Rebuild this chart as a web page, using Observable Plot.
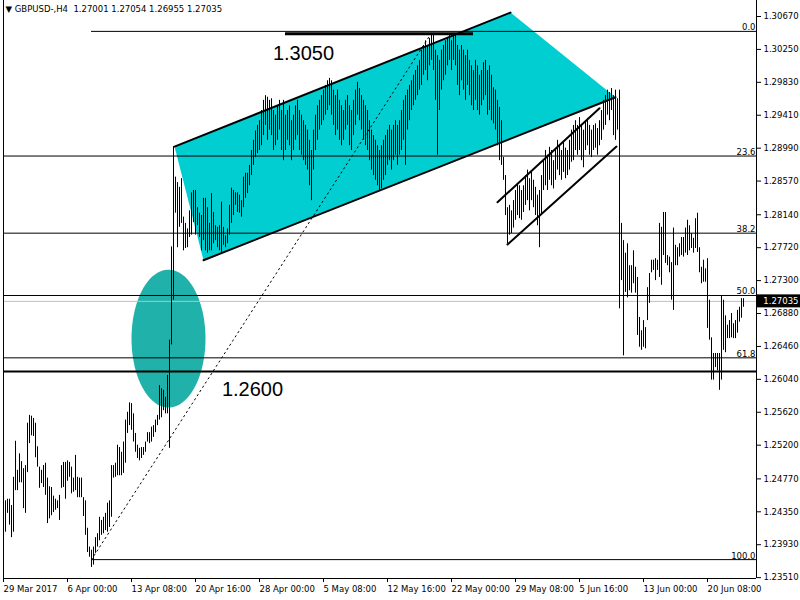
<!DOCTYPE html>
<html><head><meta charset="utf-8">
<script src="https://cdn.jsdelivr.net/npm/d3@7"></script>
<script src="https://cdn.jsdelivr.net/npm/@observablehq/plot@0.6"></script>
<style>body{margin:0;background:#fff}#chart{width:800px;height:600px}</style>
</head><body><div id="chart"></div>
<script>
// ---- data (H4 bars, one per index) ----
const highs = [
1.2443,1.2449,1.2451,1.2451,1.2443,1.2479,1.2525,1.2488,1.2509,1.2499,
1.2490,1.2494,1.2548,1.2558,1.2557,1.2554,1.2548,1.2518,1.2492,1.2488,
1.2494,1.2497,1.2478,1.2467,1.2466,1.2455,1.2451,1.2449,1.2456,1.2494,
1.2498,1.2498,1.2500,1.2498,1.2492,1.2478,1.2507,1.2479,1.2478,1.2478,
1.2453,1.2449,1.2414,1.2390,1.2386,1.2390,1.2402,1.2407,1.2428,1.2424,
1.2428,1.2433,1.2446,1.2449,1.2494,1.2494,1.2497,1.2520,1.2517,1.2511,
1.2524,1.2552,1.2562,1.2574,1.2573,1.2560,1.2535,1.2520,1.2516,1.2517,
1.2517,1.2524,1.2536,1.2536,1.2543,1.2545,1.2552,1.2558,1.2596,1.2592,
1.2590,1.2581,1.2609,1.2654,1.2773,1.2901,1.2862,1.2855,1.2849,1.2860,
1.2811,1.2803,1.2796,1.2819,1.2842,1.2845,1.2845,1.2823,1.2816,1.2813,
1.2835,1.2835,1.2823,1.2803,1.2841,1.2817,1.2800,1.2798,1.2800,1.2830,
1.2798,1.2787,1.2796,1.2826,1.2848,1.2845,1.2842,1.2842,1.2839,1.2832,
1.2862,1.2867,1.2867,1.2877,1.2896,1.2909,1.2921,1.2928,1.2934,1.2947,
1.2960,1.2966,1.2964,1.2960,1.2962,1.2947,1.2941,1.2953,1.2960,1.2947,
1.2960,1.2941,1.2947,1.2953,1.2934,1.2941,1.2953,1.2960,1.2947,1.2941,
1.2934,1.2928,1.2922,1.2909,1.2896,1.2922,1.2941,1.2953,1.2960,1.2966,
1.2973,1.2979,1.2985,1.2988,1.2985,1.2973,1.2966,1.2973,1.2960,1.2953,
1.2947,1.2960,1.2966,1.2953,1.2947,1.2960,1.2973,1.2983,1.2975,1.2966,
1.2960,1.2953,1.2947,1.2934,1.2922,1.2915,1.2909,1.2902,1.2896,1.2902,
1.2909,1.2915,1.2922,1.2928,1.2922,1.2928,1.2934,1.2928,1.2934,1.2947,
1.2960,1.2966,1.2973,1.2979,1.2985,1.2992,1.2998,1.3004,1.3011,1.3024,
1.3030,1.3036,1.3030,1.3039,1.3045,1.3043,1.3024,1.3017,1.3011,1.3024,
1.3030,1.3036,1.3039,1.3043,1.3036,1.3045,1.3043,1.3030,1.3024,1.3030,
1.3024,1.3017,1.3024,1.3011,1.3004,1.2998,1.3011,1.3004,1.2992,1.2998,
1.3008,1.3011,1.2998,1.3004,1.2992,1.2976,1.2973,1.2960,1.2951,1.2934,
1.2887,1.2864,1.2823,1.2826,1.2819,1.2832,1.2845,1.2854,1.2851,1.2845,
1.2851,1.2864,1.2871,1.2860,1.2868,1.2858,1.2849,1.2839,1.2845,1.2864,
1.2883,1.2896,1.2890,1.2900,1.2896,1.2883,1.2896,1.2909,1.2902,1.2896,
1.2906,1.2899,1.2896,1.2909,1.2922,1.2928,1.2934,1.2928,1.2938,1.2928,
1.2922,1.2934,1.2937,1.2928,1.2922,1.2928,1.2930,1.2924,1.2934,1.2947,
1.2960,1.2966,1.2973,1.2970,1.2975,1.2966,1.2973,1.2962,1.2973,1.2803,
1.2781,1.2765,1.2777,1.2749,1.2749,1.2768,1.2747,1.2734,1.2683,1.2666,
1.2679,1.2670,1.2721,1.2739,1.2756,1.2756,1.2758,1.2756,1.2803,1.2798,
1.2817,1.2817,1.2762,1.2760,1.2753,1.2797,1.2775,1.2772,1.2777,1.2785,
1.2785,1.2797,1.2807,1.2800,1.2790,1.2784,1.2809,1.2816,1.2772,1.2747,
1.2756,1.2745,1.2758,1.2705,1.2657,1.2637,1.2637,1.2637,1.2637,1.2711,
1.2705,1.2685,1.2673,1.2679,1.2688,1.2675,1.2679,1.2692,1.2696,1.2707,
1.2707
];
const lows = [
1.2398,1.2409,1.2433,1.2418,1.2402,1.2409,1.2462,1.2462,1.2472,1.2472,
1.2439,1.2433,1.2485,1.2522,1.2532,1.2531,1.2504,1.2492,1.2465,1.2471,
1.2466,1.2456,1.2420,1.2426,1.2430,1.2434,1.2437,1.2439,1.2424,1.2465,
1.2466,1.2451,1.2474,1.2479,1.2458,1.2460,1.2462,1.2453,1.2453,1.2453,
1.2429,1.2405,1.2383,1.2377,1.2364,1.2367,1.2382,1.2390,1.2398,1.2405,
1.2407,1.2411,1.2409,1.2415,1.2428,1.2478,1.2479,1.2481,1.2481,1.2481,
1.2484,1.2497,1.2535,1.2545,1.2539,1.2524,1.2511,1.2503,1.2500,1.2503,
1.2507,1.2511,1.2524,1.2522,1.2524,1.2530,1.2536,1.2545,1.2552,1.2555,
1.2564,1.2560,1.2560,1.2516,1.2648,1.2705,1.2816,1.2772,1.2798,1.2803,
1.2768,1.2771,1.2772,1.2785,1.2788,1.2804,1.2788,1.2800,1.2785,1.2768,
1.2781,1.2768,1.2765,1.2768,1.2768,1.2777,1.2781,1.2772,1.2768,1.2766,
1.2775,1.2772,1.2777,1.2788,1.2803,1.2813,1.2826,1.2817,1.2816,1.2811,
1.2823,1.2835,1.2841,1.2851,1.2864,1.2877,1.2887,1.2892,1.2896,1.2902,
1.2915,1.2928,1.2909,1.2922,1.2915,1.2896,1.2902,1.2909,1.2922,1.2896,
1.2883,1.2896,1.2909,1.2902,1.2883,1.2896,1.2909,1.2915,1.2896,1.2890,
1.2883,1.2877,1.2871,1.2851,1.2832,1.2871,1.2896,1.2909,1.2922,1.2928,
1.2934,1.2941,1.2947,1.2953,1.2941,1.2928,1.2915,1.2922,1.2909,1.2902,
1.2909,1.2922,1.2928,1.2902,1.2896,1.2915,1.2928,1.2941,1.2934,1.2922,
1.2909,1.2902,1.2896,1.2883,1.2871,1.2864,1.2858,1.2851,1.2845,1.2847,
1.2858,1.2864,1.2877,1.2883,1.2871,1.2883,1.2890,1.2877,1.2890,1.2896,
1.2909,1.2877,1.2922,1.2934,1.2947,1.2953,1.2960,1.2966,1.2973,1.2979,
1.2992,1.2998,1.2985,1.3004,1.3011,1.2998,1.2960,1.2890,1.2947,1.2973,
1.2985,1.2992,1.3004,1.3011,1.2998,1.3011,1.3004,1.2979,1.2966,1.2985,
1.2973,1.2960,1.2979,1.2966,1.2953,1.2947,1.2960,1.2947,1.2941,1.2953,
1.2960,1.2966,1.2941,1.2947,1.2934,1.2930,1.2922,1.2902,1.2883,1.2877,
1.2858,1.2813,1.2777,1.2788,1.2790,1.2797,1.2807,1.2813,1.2809,1.2807,
1.2817,1.2826,1.2832,1.2819,1.2832,1.2823,1.2813,1.2800,1.2772,1.2813,
1.2845,1.2851,1.2845,1.2858,1.2851,1.2847,1.2858,1.2871,1.2864,1.2858,
1.2868,1.2860,1.2864,1.2871,1.2881,1.2883,1.2896,1.2890,1.2896,1.2883,
1.2874,1.2896,1.2902,1.2890,1.2887,1.2896,1.2899,1.2890,1.2902,1.2909,
1.2922,1.2928,1.2941,1.2934,1.2947,1.2915,1.2909,1.2922,1.2694,1.2730,
1.2634,1.2715,1.2708,1.2717,1.2714,1.2726,1.2714,1.2660,1.2645,1.2641,
1.2645,1.2643,1.2679,1.2701,1.2740,1.2743,1.2730,1.2743,1.2734,1.2724,
1.2762,1.2752,1.2749,1.2740,1.2705,1.2692,1.2749,1.2749,1.2760,1.2762,
1.2760,1.2765,1.2762,1.2768,1.2771,1.2765,1.2771,1.2766,1.2740,1.2726,
1.2728,1.2728,1.2669,1.2654,1.2603,1.2603,1.2619,1.2615,1.2590,1.2603,
1.2641,1.2638,1.2656,1.2656,1.2657,1.2656,1.2656,1.2663,1.2677,1.2682,
1.2696
];
const yTicks = [1.30670,1.30250,1.29830,1.29410,1.28990,1.28570,1.28140,1.27720,1.27300,
  1.26880,1.26460,1.26040,1.25620,1.25200,1.24770,1.24350,1.23930,1.23510];
const xTickIdx = [0,32,64,96,128,160,192,224,256,288,320,352];
const xTickLabels = ["29 Mar 2017","6 Apr 00:00","13 Apr 08:00","20 Apr 16:00","28 Apr 00:00",
  "5 May 08:00","12 May 16:00","22 May 00:00","29 May 08:00","5 Jun 16:00","13 Jun 00:00","20 Jun 08:00"];
const fibLevels = [0, 23.6, 38.2, 50, 61.8, 100];
const fibLabels = ["0.0","23.6","38.2","50.0","61.8","100.0"];
const fibStartIdx = [44, 0, 0, 0, 0, 44];
const fibHigh = 1.3048, fibLow = 1.2374;
const fibHighIdx = 214.5, fibLowIdx = 44;
const currentPrice = 1.27035;
const header = "\u25BC GBPUSD-,H4  1.27001 1.27054 1.26955 1.27035";
// channel (index, price)
const channelPoly = [[85.5,1.2901],[253.5,1.3072],[306,1.2964],[100,1.2756]];
const channelUpper = [[85.5,1.2901],[253.5,1.3072]];
const channelLower = [[100,1.2756],[306,1.2964]];
const flagUpper = [[247,1.2830],[298,1.2950]];
const flagLower = [[252,1.2776],[306.5,1.2901]];
const levelLow = 1.2614, levelLowLabel = "1.2600", levelLowLabelAt = [124.5, 1.2591];
const levelHigh = 1.3045, levelHighRange = [141, 235], levelHighLabel = "1.3050", levelHighLabelAt = [150, 1.3020];
const ellipse = {cx: 82.5, cy: 1.2656, rx: 18.5, ry: 0.0088};

// ---- build ----
const bars = highs.map((h, i) => ({i, high: h, low: lows[i]}));
const fibs = fibLevels.map((l, k) => ({level: l, label: fibLabels[k], start: fibStartIdx[k],
  price: fibHigh - l / 100 * (fibHigh - fibLow)}));
const ellPts = d3.range(0, 360, 4).map(a => ({
  x: ellipse.cx + ellipse.rx * Math.cos(a * Math.PI / 180),
  y: ellipse.cy + ellipse.ry * Math.sin(a * Math.PI / 180)}));
const tickLabel = new Map(xTickIdx.map((d, k) => [d, xTickLabels[k]]));
const XMAX = 376.5;
const font = "DejaVu Sans";

const chart = Plot.plot({
  width: 800, height: 600,
  marginLeft: 3, marginRight: 44, marginTop: 0, marginBottom: 22,
  style: {fontFamily: font, fontSize: "8px", background: "#fff", color: "#000"},
  x: {type: "linear", domain: [0, XMAX], range: [3, 756], axis: null},
  y: {type: "linear", domain: [1.23499, 1.30823], range: [578, 4], axis: null},
  marks: [
    Plot.line(channelPoly, {x: d => d[0], y: d => d[1], fill: "#00CED1", stroke: "none", curve: "linear-closed"}),
    Plot.line(ellPts, {x: "x", y: "y", fill: "#20B2AA", stroke: "none", curve: "linear-closed"}),
    Plot.ruleY([currentPrice], {stroke: "#c0c0c0", strokeWidth: 1}),
    Plot.ruleY(fibs, {y: "price", x1: "start", x2: XMAX, stroke: "#000", strokeWidth: 1}),
    Plot.text(fibs, {y: "price", x: XMAX - 0.5, text: "label", textAnchor: "end", lineAnchor: "bottom", dy: -1, fontSize: 8.5}),
    Plot.line([[fibLowIdx, fibLow], [fibHighIdx, fibHigh]], {x: d => d[0], y: d => d[1], stroke: "#000", strokeWidth: 1, strokeDasharray: "1.5,3.5"}),
    Plot.ruleX(bars, {x: "i", y1: "low", y2: "high", stroke: "#000", strokeWidth: 1}),
    Plot.ruleY([levelLow], {stroke: "#000", strokeWidth: 2}),
    Plot.ruleY([levelHigh], {x1: levelHighRange[0], x2: levelHighRange[1], stroke: "#000", strokeWidth: 3}),
    Plot.line(channelUpper, {x: d => d[0], y: d => d[1], stroke: "#000", strokeWidth: 2}),
    Plot.line(channelLower, {x: d => d[0], y: d => d[1], stroke: "#000", strokeWidth: 2}),
    Plot.line(flagUpper, {x: d => d[0], y: d => d[1], stroke: "#000", strokeWidth: 2}),
    Plot.line(flagLower, {x: d => d[0], y: d => d[1], stroke: "#000", strokeWidth: 2}),
    Plot.text([levelLowLabel], {x: levelLowLabelAt[0], y: levelLowLabelAt[1], text: d => d, fontSize: 20, fontFamily: "Liberation Sans", textAnchor: "middle"}),
    Plot.text([levelHighLabel], {x: levelHighLabelAt[0], y: levelHighLabelAt[1], text: d => d, fontSize: 20, fontFamily: "Liberation Sans", textAnchor: "middle"}),
    // frame
    Plot.ruleX([0, XMAX], {stroke: "#000"}),
    Plot.ruleY([1.23499], {stroke: "#000"}),
    // axes
    Plot.axisY({anchor: "right", ticks: yTicks, tickFormat: d => d.toFixed(5), tickSize: 4, tickPadding: 3, fontSize: 8.5}),
    Plot.axisX({anchor: "bottom", ticks: xTickIdx, tickFormat: d => tickLabel.get(d), tickSize: 4, tickPadding: 3, textAnchor: "start", fontSize: 8.5}),
    // current price box
    Plot.rect([currentPrice], {x1: XMAX + 0.3, x2: XMAX + 22, y1: d => d - 0.00083, y2: d => d + 0.00083, fill: "#000"}),
    Plot.text([currentPrice], {x: XMAX + 3.4, y: d => d, text: d => d.toFixed(5), fill: "#fff", textAnchor: "start", fontSize: 8.5}),
    // header
    Plot.text([header], {x: 1, y: 1.30823, text: d => d, textAnchor: "start", lineAnchor: "top", dy: 1, fontSize: 8.5})
  ]
});
document.getElementById("chart").appendChild(chart);
</script>
</body></html>
